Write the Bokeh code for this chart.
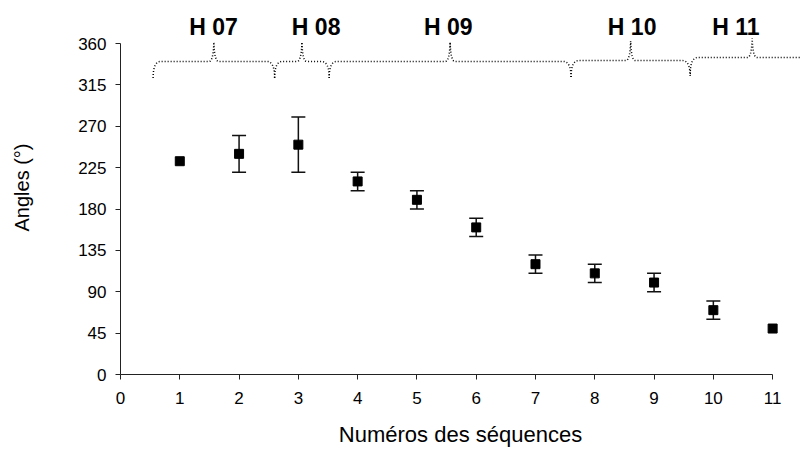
from bokeh.plotting import figure
from bokeh.models import ColumnDataSource, Whisker, TeeHead, FixedTicker
from bokeh.embed import file_html
from bokeh.resources import INLINE
from bokeh.core.properties import value

# ---- data ----
seq = [1, 2, 3, 4, 5, 6, 7, 8, 9, 10, 11]
angles = [232, 240, 250, 210, 190, 160, 120, 110, 100, 70, 50]
err_low = [232, 220, 220, 200, 180, 150, 110, 100, 90, 60, 50]
err_high = [232, 260, 280, 220, 200, 170, 130, 120, 110, 80, 50]

x_ticks = [0, 1, 2, 3, 4, 5, 6, 7, 8, 9, 10, 11]
y_ticks = [0, 45, 90, 135, 180, 225, 270, 315, 360]

groups = ["H 07", "H 08", "H 09", "H 10", "H 11"]
group_start = [0.55, 2.60, 3.52, 7.60, 9.61]
group_end = [2.60, 3.52, 7.60, 9.61, 11.70]
group_label_x = [1.57, 3.30, 5.53, 8.63, 10.38]
brace_level = [340.5, 340.5, 340.5, 341.5, 344.8]

FONT = "Liberation Sans"

p = figure(width=800, height=450, x_range=(0, 11.47), y_range=(0, 406.8),
           output_backend="svg", toolbar_location=None,
           min_border_left=120, min_border_right=0, min_border_top=0,
           min_border_bottom=76)
p.outline_line_color = None
p.xgrid.visible = False
p.ygrid.visible = False
p.background_fill_color = "white"
p.border_fill_color = "white"

# ---- axes ----
for ax in (p.xaxis[0], p.yaxis[0]):
    ax.major_tick_in = 0
    ax.major_tick_out = 5
    ax.minor_tick_line_color = None
    ax.axis_line_color = "#222222"
    ax.major_tick_line_color = "#222222"
    ax.major_label_text_font = FONT
    ax.major_label_text_font_size = "17px"
    ax.major_label_text_color = "black"
    ax.axis_label_text_font = FONT
    ax.axis_label_text_font_style = "normal"
    ax.axis_label_text_color = "black"

p.xaxis.major_label_standoff = 12
p.yaxis.major_label_standoff = 9
p.xaxis.ticker = FixedTicker(ticks=x_ticks)
p.yaxis.ticker = FixedTicker(ticks=y_ticks)
p.xaxis.bounds = (x_ticks[0], x_ticks[-1])
p.yaxis.bounds = (y_ticks[0], y_ticks[-1])
p.xaxis.axis_label = "Numéros des séquences"
p.yaxis.axis_label = "Angles (°)"
p.xaxis.axis_label_text_font_size = "22px"
p.yaxis.axis_label_text_font_size = "20px"
p.xaxis.axis_label_standoff = 15
p.yaxis.axis_label_standoff = 42

# ---- error bars ----
idx = [i for i in range(len(seq)) if err_high[i] != err_low[i]]
wsrc = ColumnDataSource(dict(x=[seq[i] for i in idx],
                             lower=[err_low[i] for i in idx],
                             upper=[err_high[i] for i in idx]))
w = Whisker(base="x", lower="lower", upper="upper", source=wsrc,
            line_color="#111111", line_width=1.5,
            upper_head=TeeHead(size=14, line_color="#111111", line_width=1.5),
            lower_head=TeeHead(size=14, line_color="#111111", line_width=1.5))
p.add_layout(w)

# ---- points ----
p.scatter(seq, angles, marker="square", size=9, color="black")

# ---- braces ----
def quad(p0, c, p1, n=12):
    pts = []
    for k in range(n + 1):
        t = k / n
        x = (1 - t) ** 2 * p0[0] + 2 * (1 - t) * t * c[0] + t ** 2 * p1[0]
        y = (1 - t) ** 2 * p0[1] + 2 * (1 - t) * t * c[1] + t ** 2 * p1[1]
        pts.append((x, y))
    return pts

xs, ys = [], []
for x0, x1, yl in zip(group_start, group_end, brace_level):
    pm = (x0 + x1) / 2
    drop, rise, curl, half = 18, 21, 0.13, 0.08
    pts = []
    pts += quad((x0, yl - drop), (x0, yl), (x0 + curl, yl))
    pts += quad((pm - half, yl), (pm - 0.01, yl), (pm, yl + rise))
    pts += quad((pm, yl + rise), (pm + 0.01, yl), (pm + half, yl))
    pts += quad((x1 - curl, yl), (x1, yl), (x1, yl - drop))
    xs.append([q[0] for q in pts])
    ys.append([q[1] for q in pts])

p.multi_line(xs, ys, line_color="black", line_width=1.5, line_dash="1 2")

p.text(x=group_label_x, y=[378.5] * len(groups), text=groups,
       text_align="center", text_baseline="alphabetic",
       text_font=value(FONT), text_font_style="bold",
       text_font_size="23px", text_color="black")

open("out.html", "w").write(file_html(p, INLINE))
